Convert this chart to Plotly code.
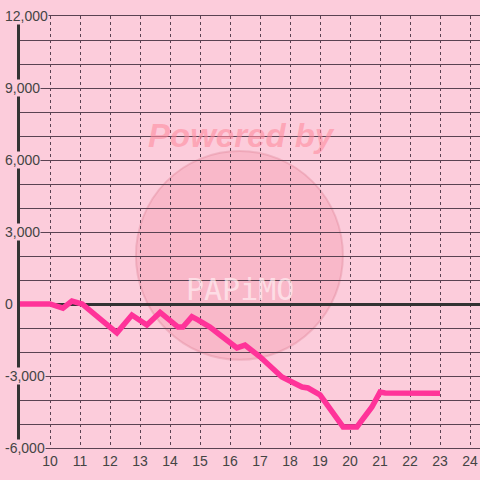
import plotly.graph_objects as go

# hour of day vs running balance
hours = [9, 10, 10.43, 10.73, 11.07, 11.57, 12.0, 12.23, 12.73, 13.23, 13.67,
         14.27, 14.43, 14.73, 14.93, 15.33, 15.67, 16.23, 16.5, 17.0, 17.73,
         17.93, 18.4, 18.6, 19.0, 19.77, 20.23, 20.73, 21.0, 21.17, 23.0]
balance = [0, 0, -170, 125, 0, -540, -1000, -1200, -460, -875, -350,
           -960, -960, -530, -660, -960, -1290, -1830, -1710, -2200, -3040,
           -3170, -3460, -3500, -3790, -5120, -5120, -4290, -3670, -3710, -3720]

x_ticks = list(range(10, 25))
y_ticks = [-6000, -3000, 0, 3000, 6000, 9000, 12000]

bg = "#FCCCDB"
grid = "#5a4252"
text = "#444444"

fig = go.Figure()
fig.add_trace(go.Scatter(x=hours, y=balance, mode="lines",
                         line=dict(color="#FF3399", width=5.5),
                         hoverinfo="skip"))

# watermark
fig.add_shape(type="circle", xref="paper", yref="paper",
              x0=0.252, x1=0.702, y0=0.204, y1=0.6875, layer="below",
              fillcolor="rgba(242,140,160,0.3)",
              line=dict(color="rgba(215,120,140,0.3)", width=2))
fig.add_annotation(xref="paper", yref="paper", x=0.482, y=0.7245,
                   yanchor="middle",
                   text="<b><i>Powered by</i></b>", showarrow=False,
                   font=dict(family="Liberation Sans", size=33,
                             color="rgba(255,140,160,0.6)"))
fig.add_annotation(xref="paper", yref="paper", x=0.478, y=0.366,
                   yanchor="middle",
                   text="PAPiMO", showarrow=False,
                   font=dict(family="DejaVu Sans Mono", size=30,
                             color="rgba(255,238,242,0.7)"))

for v in y_ticks:
    fig.add_annotation(xref="paper", yref="y", x=0, y=v, xshift=-16,
                       xanchor="left", yanchor="middle", text=f"{v:,}",
                       showarrow=False, bgcolor=bg, borderpad=0,
                       font=dict(family="Liberation Sans", size=14, color=text))

fig.update_layout(
    width=480, height=480,
    margin=dict(l=20, r=0, t=16, b=32, autoexpand=False),
    paper_bgcolor=bg, plot_bgcolor=bg,
    showlegend=False,
    xaxis=dict(range=[9, 24.333], tickvals=x_ticks, ticks="", automargin=False,
               showgrid=True, gridcolor=grid, gridwidth=1, griddash="dot",
               zeroline=False, showline=True, linecolor=grid, linewidth=1,
               mirror=True,
               tickfont=dict(family="Liberation Sans", size=14, color=text)),
    yaxis=dict(range=[-6000, 12000], dtick=1000, tick0=0, automargin=False,
               showticklabels=False, ticks="",
               showgrid=True, gridcolor=grid, gridwidth=1,
               zeroline=True, zerolinecolor="#333333", zerolinewidth=3,
               showline=True, linecolor="#333333", linewidth=3),
)

fig.write_html("out.html", config={"displayModeBar": False},
               post_script="document.body.style.margin='0';")
